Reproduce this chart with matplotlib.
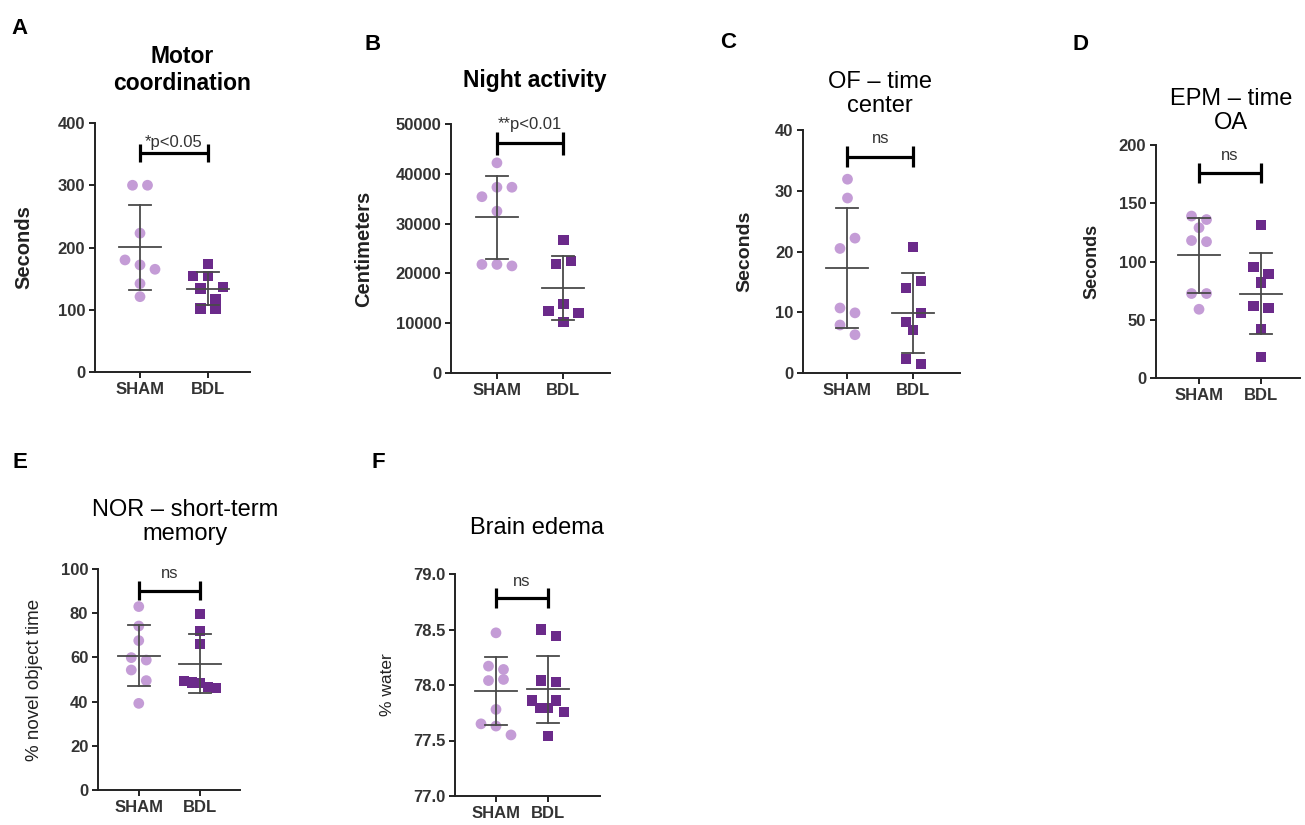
import numpy as np
from matplotlib import pyplot as plt

plt.rcParams['font.family'] = ['Liberation Sans', 'DejaVu Sans']

W, H = 1305, 825

groups = ['SHAM', 'BDL']

# values, one list per group
motor_sham = [300, 300, 223, 180, 172, 165, 142, 121]
motor_bdl = [173, 154, 154, 137, 134, 117, 102, 102]

night_sham = [42200, 35400, 37300, 37300, 32500, 21800, 21800, 21500]
night_bdl = [26700, 21900, 22500, 12500, 13800, 12100, 10300]

of_sham = [31.9, 28.8, 20.5, 22.2, 10.7, 9.9, 7.9, 6.3]
of_bdl = [20.7, 14.0, 15.2, 8.4, 9.9, 7.1, 2.3, 1.5]

epm_sham = [139, 136, 129, 118, 117, 72.5, 72.5, 59]
epm_bdl = [131, 95, 89, 82, 62, 60, 42, 18]

nor_sham = [83.0, 74.2, 67.6, 59.9, 58.8, 54.3, 49.5, 39.2]
nor_bdl = [79.6, 72.1, 66.1, 49.5, 48.6, 48.3, 46.5, 46.0]

edema_sham = [78.47, 78.17, 78.14, 78.04, 78.05, 77.78, 77.65, 77.63, 77.55]
edema_bdl = [78.50, 78.44, 78.04, 78.03, 77.86, 77.79, 77.79, 77.86, 77.76, 77.54]

SHAM_COLOR = '#c49cd6'
BDL_COLOR = '#6b2a8a'
LINE_COLOR = '#4a4a4a'
AX_COLOR = '#222222'

# layout in pixels: axes box (left, right, top, bottom), xlim, ylim, ticks ...
panels = [
    dict(letter='A', lpos=(20, 28), title='Motor\ncoordination', tpos=(182, 70), tbold=True,
         box=(95, 250, 123, 372), xlim=(-0.662, 1.618), ylim=(0, 400),
         ticks=[0, 100, 200, 300, 400], fmt='{:.0f}', ylabel='Seconds', ylx=33, ybold=True,
         ysize=14.5, sham=motor_sham, bdl=motor_bdl, sig='*p<0.05', bar=(352, 15, 368)),
    dict(letter='B', lpos=(373, 45), title='Night activity', tpos=(535, 80), tbold=True,
         box=(451, 610, 124, 373), xlim=(-0.691, 1.701), ylim=(0, 50000),
         ticks=[0, 10000, 20000, 30000, 40000, 50000], fmt='{:.0f}', ylabel='Centimeters',
         ylx=373, ybold=True, ysize=14.5,
         sham=night_sham, bdl=night_bdl, sig='**p<0.01', bar=(46100, 2300, 49800)),
    dict(letter='C', lpos=(728, 43), title='OF \u2013 time\ncenter', tpos=(880, 94), tbold=False,
         box=(803, 960, 130, 373), xlim=(-0.677, 1.712), ylim=(0, 40),
         ticks=[0, 10, 20, 30, 40], fmt='{:.0f}', ylabel='Seconds', ylx=753, ybold=True,
         ysize=14, sham=of_sham, bdl=of_bdl, sig='ns', bar=(35.6, 1.7, 38.6)),
    dict(letter='D', lpos=(1081, 45), title='EPM \u2013 time\nOA', tpos=(1231, 111), tbold=False,
         box=(1156, 1300, 145, 378), xlim=(-0.694, 1.629), ylim=(0, 200),
         ticks=[0, 50, 100, 150, 200], fmt='{:.0f}', ylabel='Seconds', ylx=1100, ybold=True,
         ysize=13, sham=epm_sham, bdl=epm_bdl, sig='ns', bar=(175.6, 8.6, 191)),
    dict(letter='E', lpos=(20, 463), title='NOR \u2013 short-term\nmemory', tpos=(185, 522),
         tbold=False,
         box=(98, 240, 569, 790), xlim=(-0.667, 1.656), ylim=(0, 100),
         ticks=[0, 20, 40, 60, 80, 100], fmt='{:.0f}', ylabel='% novel object time', ylx=43,
         ybold=False, ysize=13.5,
         sham=nor_sham, bdl=nor_bdl, sig='ns', bar=(90.2, 4.3, 98)),
    dict(letter='F', lpos=(378, 463), title='Brain edema', tpos=(537, 528), tbold=False,
         box=(455, 600, 574, 796), xlim=(-0.784, 1.989), ylim=(77.0, 79.0),
         ticks=[77.0, 77.5, 78.0, 78.5, 79.0], fmt='{:.1f}', ylabel='% water', ylx=395,
         ybold=False, ysize=12.5,
         sham=edema_sham, bdl=edema_bdl, sig='ns', bar=(78.78, 0.09, 78.93)),
]


def swarm(vals, ylim, h_px, units_per_px, thresh=11.5, step=15, maxhalf=16):
    # group close values in rows and spread each row sideways
    vals = np.asarray(vals, dtype=float)
    ypx = (vals - ylim[0]) / (ylim[1] - ylim[0]) * h_px
    order = np.argsort(-vals, kind='stable')
    rows, cur = [], []
    for i in order:
        if cur and ypx[cur[0]] - ypx[i] > thresh:
            rows.append(cur)
            cur = []
        cur.append(i)
    rows.append(cur)
    off = np.zeros(len(vals))
    for row in rows:
        row = sorted(row)
        n = len(row)
        d = min(step, 2 * maxhalf / (n - 1)) if n > 1 else 0
        for k, i in enumerate(row):
            off[i] = (k - (n - 1) / 2) * d * units_per_px
    return off


fig = plt.figure(figsize=(W / 100, H / 100), dpi=100)

for p in panels:
    l, r, t, b = p['box']
    ax = fig.add_axes([l / W, 1 - b / H, (r - l) / W, (b - t) / H])
    ax.set_xlim(*p['xlim'])
    ax.set_ylim(*p['ylim'])
    upp = (p['xlim'][1] - p['xlim'][0]) / (r - l)

    for x0, vals, color, marker, s in [(0, p['sham'], SHAM_COLOR, 'o', 60),
                                        (1, p['bdl'], BDL_COLOR, 's', 54)]:
        off = swarm(vals, p['ylim'], b - t, upp)
        ax.scatter(x0 + off, vals, marker=marker, s=s, color=color,
                   edgecolors='none', zorder=2, clip_on=False)
        m = np.mean(vals)
        sd = np.std(vals, ddof=1)
        mh = 21 * upp
        ch = 11 * upp
        ax.plot([x0 - mh, x0 + mh], [m, m], color=LINE_COLOR, lw=1.3, zorder=3)
        ax.plot([x0, x0], [m - sd, m + sd], color=LINE_COLOR, lw=1.3, zorder=3)
        for yy in (m - sd, m + sd):
            ax.plot([x0 - ch, x0 + ch], [yy, yy], color=LINE_COLOR, lw=1.3, zorder=3)

    ybar, cap, ytxt = p['bar']
    ax.plot([0, 1], [ybar, ybar], color='black', lw=2.3, solid_capstyle='butt')
    for xx in (0, 1):
        ax.plot([xx, xx], [ybar - cap, ybar + cap], color='black', lw=2.3,
                solid_capstyle='butt')
    ax.text(0.5, ytxt, p['sig'], ha='center', va='center', fontsize=12, color='#333333')

    ax.spines['top'].set_visible(False)
    ax.spines['right'].set_visible(False)
    for sp in ('left', 'bottom'):
        ax.spines[sp].set_linewidth(1.4)
        ax.spines[sp].set_color(AX_COLOR)
    ax.set_yticks(p['ticks'])
    ax.set_yticklabels([p['fmt'].format(v) for v in p['ticks']])
    ax.set_xticks([0, 1])
    ax.set_xticklabels(groups)
    ax.tick_params(axis='both', length=4, width=1.4, color=AX_COLOR, labelcolor='#333333',
                   labelsize=12, pad=3)
    for lab in ax.get_xticklabels() + ax.get_yticklabels():
        lab.set_fontweight('bold')

    ax.set_ylabel(p['ylabel'], fontsize=p['ysize'],
                  fontweight='bold' if p['ybold'] else 'normal', color='#222222')
    ax.yaxis.set_label_coords((p['ylx'] - l) / (r - l), 0.5)

    if p['tbold']:
        fig.text(p['tpos'][0] / W, 1 - p['tpos'][1] / H, p['title'], ha='center',
                 va='center', fontsize=16.5, fontweight='bold', linespacing=1.25)
    else:
        fig.text(p['tpos'][0] / W, 1 - p['tpos'][1] / H, p['title'], ha='center',
                 va='center', fontsize=17, linespacing=1.15)
    fig.text(p['lpos'][0] / W, 1 - p['lpos'][1] / H, p['letter'], ha='center', va='center',
             fontsize=16, fontweight='bold')

fig.savefig('out.png', dpi=100, facecolor='white')
